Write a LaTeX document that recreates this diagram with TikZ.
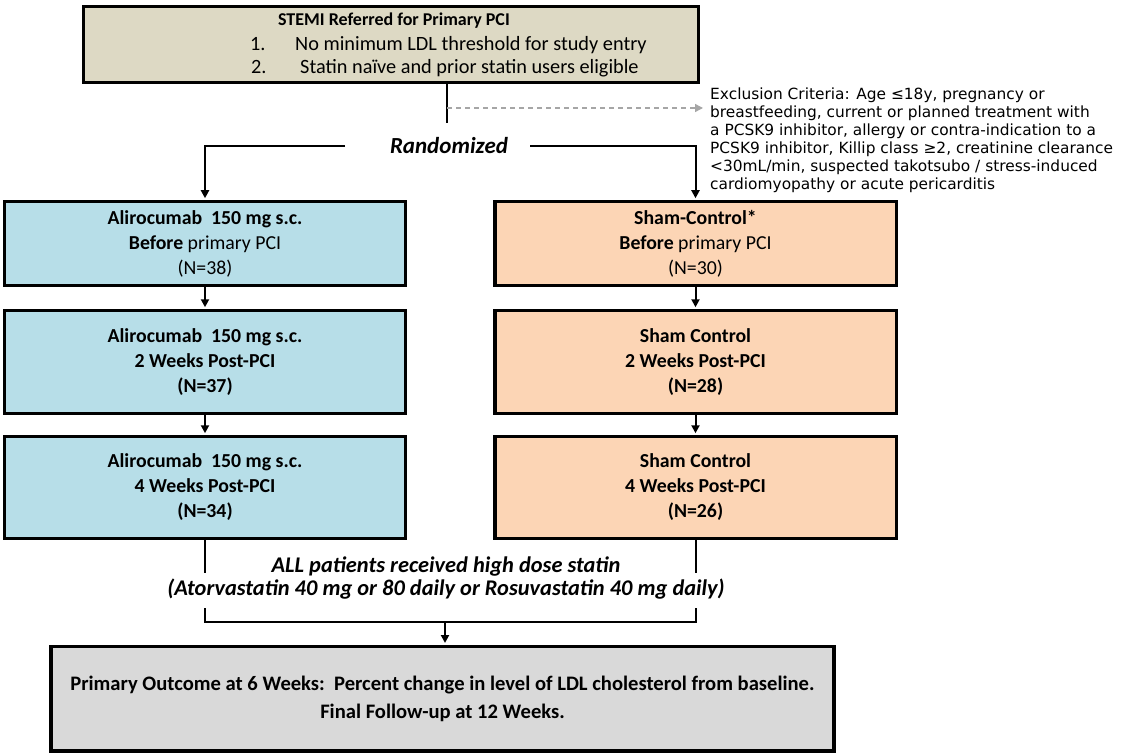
\documentclass[tikz,border=0pt]{standalone}
\usepackage{fontspec}
\setmainfont{Carlito}
\newfontfamily\dejavu{DejaVu Sans}
\usetikzlibrary{arrows.meta}
\definecolor{beige}{HTML}{DDD9C4}
\definecolor{lblue}{HTML}{B7DEE8}
\definecolor{peach}{HTML}{FCD5B5}
\definecolor{lgray}{HTML}{D9D9D9}
\definecolor{dgray}{HTML}{A6A6A6}
\begin{document}
\begin{tikzpicture}[x=1pt,y=-1pt,
  box/.style={draw=black, line width=3.5pt, align=center, inner sep=0pt,
    font=\fontsize{19.8}{25}\selectfont},
  lbox/.style={box, fill=lblue, minimum width=401pt},
  rbox/.style={box, fill=peach, minimum width=401.5pt},
  bbox/.style={font=\fontsize{19.8}{25}\selectfont\bfseries},
  txt/.style={inner sep=0pt, font=\fontsize{20.3}{22}\selectfont},
  conn/.style={line width=2pt, -{Triangle[length=8pt,width=8pt]}, shorten >=1.5pt},
  plainline/.style={line width=2pt},
  dasharrow/.style={draw=dgray, line width=1.3pt, dash pattern=on 5pt off 4pt,
    -{Triangle[length=8pt,width=8pt]}, shorten >=7pt}]
\useasboundingbox (0,0) rectangle (1132,754);

% top box
\node[box, fill=beige, minimum width=615pt, minimum height=76pt] (T) at (391,44.5) {};
\node[txt, anchor=base, font=\fontsize{18}{22}\selectfont\bfseries] (t0) at (394,26) {STEMI Referred for Primary PCI};
\node[txt, anchor=base west] (t1) at (250,51) {\makebox[45pt][l]{1.}No minimum LDL threshold for study entry};
\node[txt, anchor=base west] (t2) at (251,74) {\makebox[49pt][l]{2.}Statin naïve and prior statin users eligible};

% exclusion criteria
\node[anchor=north west, inner sep=0pt, align=left, font=\dejavu\fontsize{15.4}{18}\selectfont] (E) at (710,88)
{Exclusion Criteria: Age ≤18y, pregnancy or\\
breastfeeding, current or planned treatment with\\
a PCSK9 inhibitor, allergy or contra-indication to a\\
PCSK9 inhibitor, Killip class ≥2, creatinine clearance\\
<30mL/min, suspected takotsubo / stress-induced\\
cardiomyopathy or acute pericarditis};

% randomized
\node[txt, font=\fontsize{23}{25}\selectfont\bfseries\itshape] (rand) at (449,146) {Randomized};
\coordinate (v1) at (447,123);
\coordinate (d0) at (447,108);
\coordinate (rl) at (345,146);
\coordinate (rr) at (530,146);
\draw[plainline] (T.south -| v1) -- (v1);
\draw[dasharrow] (d0) -- (d0 -| E.west);

% left column
\node[lbox, minimum height=84pt] (L1) at (205,243.5)
  {\textbf{Alirocumab~~150 mg s.c.}\\\textbf{Before} primary PCI\\(N=38)};
\node[lbox, bbox, minimum height=103pt] (L2) at (205,362)
  {Alirocumab~~150 mg s.c.\\2 Weeks Post-PCI\\(N=37)};
\node[lbox, bbox, minimum height=102pt] (L3) at (205,487.5)
  {Alirocumab~~150 mg s.c.\\4 Weeks Post-PCI\\(N=34)};

% right column
\node[rbox, minimum height=84pt] (R1) at (695.5,243.5)
  {\textbf{Sham-Control*}\\\textbf{Before} primary PCI\\(N=30)};
\node[rbox, bbox, minimum height=103pt] (R2) at (695.5,362)
  {Sham Control\\2 Weeks Post-PCI\\(N=28)};
\node[rbox, bbox, minimum height=102pt] (R3) at (695.5,487.5)
  {Sham Control\\4 Weeks Post-PCI\\(N=26)};

\draw[conn] (rl) -| (L1.north);
\draw[conn] (rr) -| (R1.north);
\draw[conn] (L1.south) -- (L2.north);
\draw[conn] (L2.south) -- (L3.north);
\draw[conn] (R1.south) -- (R2.north);
\draw[conn] (R2.south) -- (R3.north);

% statin text
\node[txt, align=center, font=\fontsize{22.4}{23}\selectfont\bfseries\itshape] (S) at (446,578.5)
  {ALL patients received high dose statin\\(Atorvastatin 40 mg or 80 daily or Rosuvastatin 40 mg daily)};

% bottom box
\node[box, fill=lgray, minimum width=783pt, minimum height=104.5pt,
  font=\fontsize{20.6}{28}\selectfont\bfseries] (B) at (442.5,698.5)
  {Primary Outcome at 6 Weeks:~~Percent change in level of LDL cholesterol from baseline.\\Final Follow-up at 12 Weeks.};

\coordinate (la) at (205,573);
\coordinate (lb) at (205,608);
\coordinate (ra) at (695.5,573);
\coordinate (rb) at (695.5,608);
\coordinate (mid) at (445,622);
\draw[plainline] (L3.south) -- (la);
\draw[plainline] (R3.south) -- (ra);
\draw[plainline] (lb) -- (lb |- mid) -- (rb |- mid) -- (rb);
\draw[conn] (mid) -- (B.north -| mid);
\end{tikzpicture}
\end{document}
